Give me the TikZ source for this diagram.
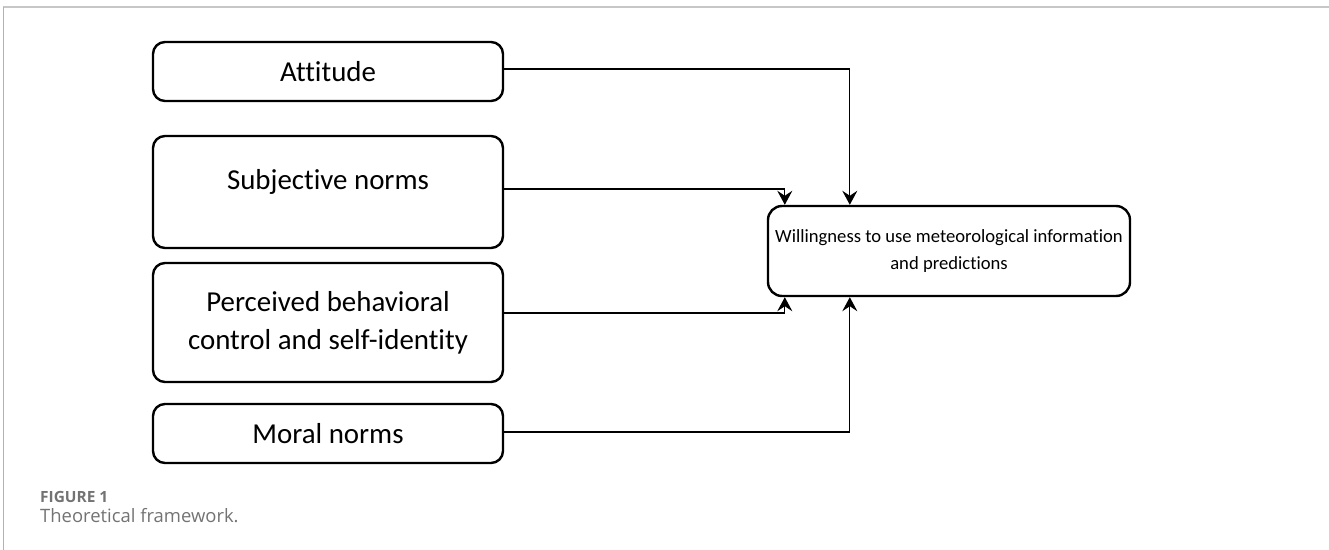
\documentclass[tikz,border=0pt]{standalone}
\usepackage{fontspec}
\setmainfont[Ligatures=NoCommon]{Carlito}
\newfontfamily\capfont{Open Sans}

\usetikzlibrary{arrows.meta}

\definecolor{capgray}{RGB}{115,115,115}

\tikzset{
  box/.style={draw, line width=2.4bp, rounded corners=12bp, minimum width=350bp,
    align=center, font=\fontsize{29}{38}\selectfont},
  conn/.style={line width=1.3bp, -{Stealth[length=14bp, width=15bp, inset=5bp]}},
}

\begin{document}
\begin{tikzpicture}[x=1bp, y=-1bp]
    \useasboundingbox (0,0) rectangle (1329,550);
    % --- Frame ---
    \draw[black!22, line width=2bp] (3,7) -- (1329,7);
    \draw[black!30, line width=0.8bp] (3,7) -- (3,550);

    % --- Factors ---
    \node[box, minimum height=59bp] (att) at (328,71.5) {Attitude};
    \node[box, minimum height=112bp, text depth=26bp] (subj) at (328,192) {Subjective norms};
    \node[box, minimum height=119bp] (perc) at (328,322.5) {Perceived behavioral\\control and self-identity};
    \node[box, minimum height=59bp] (moral) at (328,433.5) {Moral norms};

    % --- Outcome ---
    \node[box, minimum width=362bp, minimum height=90bp, rounded corners=14bp,
      font=\fontsize{18.7}{28}\selectfont] (will) at (949,251)
      {Willingness to use meteorological information\\and predictions};

    % entry points on the outcome box
    \coordinate (inA) at ([xshift=83bp]will.north west);
    \coordinate (inS) at ([xshift=18bp]will.north west);
    \coordinate (inP) at ([xshift=18bp]will.south west);
    \coordinate (inM) at ([xshift=83bp]will.south west);

    % --- Connectors ---
    \draw[conn] ([yshift=2.5bp]att.east) -| (inA);
    \draw[conn] ([yshift=3bp]subj.east) -| (inS);
    \draw[conn] ([yshift=9.5bp]perc.east) -| (inP);
    \draw[conn] ([yshift=1.5bp]moral.east) -| (inM);

    % --- Caption ---
    \node[anchor=base west, inner sep=0, text=capgray, font=\capfont\bfseries\fontsize{15.5}{17}\selectfont] (fig) at (40,502) {FIGURE 1};
    \node[anchor=base west, inner sep=0, text=capgray, font=\capfont\fontsize{18.5}{21}\selectfont] (cap) at (40,522) {Theoretical framework.};
\end{tikzpicture}
\end{document}
